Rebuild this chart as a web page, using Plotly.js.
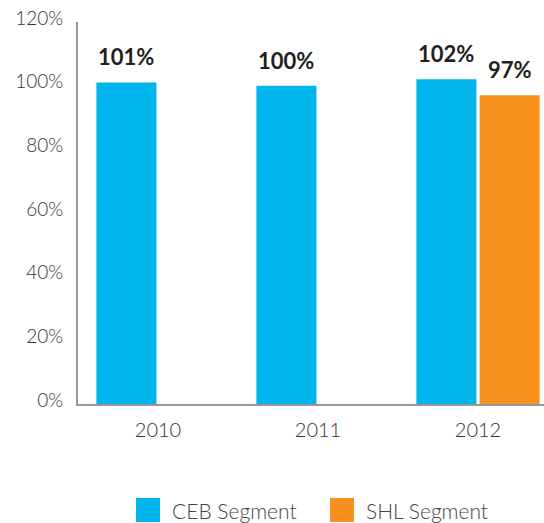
<!DOCTYPE html>
<html><head><meta charset="utf-8">
<script src="https://cdn.plot.ly/plotly-3.0.1.min.js"></script>
<style>html,body{margin:0;padding:0;background:#fff}</style>
</head><body><div id="chart" style="width:544px;height:523px"></div>
<script>
var years = ['2010', '2011', '2012'];
var seriesNames = ['CEB Segment', 'SHL Segment'];
var cebValues = [101, 100, 102];
var shlValues = [null, null, 97];
var cebLabels = ['101%', '100%', '102%'];
var shlLabels = ['', '', '97%'];
var yTicks = [0, 20, 40, 60, 80, 100, 120];
var yTickText = yTicks.map(function (v) { return v + '%'; });
var colors = ['#00b5ec', '#f7901e'];

var FONT = 'Lato, "Open Sans", sans-serif';
var labelFont = {family: FONT, size: 22, color: '#231f20', weight: 700};
var traces = [
  {type: 'bar', name: seriesNames[0], x: years, y: cebValues,
   marker: {color: colors[0], line: {width: 0}}, hoverinfo: 'none'},
  {type: 'bar', name: seriesNames[1], x: years, y: shlValues,
   marker: {color: colors[1], line: {width: 0}}, hoverinfo: 'none'}
];

var W = 544, L = 78, T = 22, B = 404;
function px(x) { return (x - L) / (W - L); }
function py(y) { return (B - y) / (B - T); }
var shapes = [], annotations = [];
var legX = [136, 330];
for (var i = 0; i < seriesNames.length; i++) {
  shapes.push({type: 'rect', xref: 'paper', yref: 'paper', x0: px(legX[i]), x1: px(legX[i] + 24),
    y0: py(498), y1: py(522), fillcolor: colors[i], line: {width: 0}});
  annotations.push({xref: 'paper', yref: 'paper', x: px(legX[i] + 34), y: py(511), xanchor: 'left',
    yanchor: 'middle', text: seriesNames[i], showarrow: false,
    font: {family: FONT, size: 21, color: '#444446', weight: 300}});
}
// value labels above bars (CEB left slot, SHL right slot of each group)
var slotShift = 31.6;
var allVals = [cebValues, shlValues], allLabels = [cebLabels, shlLabels];
for (var s = 0; s < 2; s++) {
  for (var k = 0; k < years.length; k++) {
    if (allVals[s][k] === null) continue;
    annotations.push({x: k, y: allVals[s][k], xref: 'x', yref: 'y', text: allLabels[s][k],
      showarrow: false, xanchor: 'center', yanchor: 'bottom', xshift: (s === 0 ? -slotShift : slotShift),
      yshift: 10, font: labelFont});
  }
}

var layout = {
  width: 544, height: 523,
  margin: {l: L, r: 0, t: T, b: 523 - B, pad: 0},
  paper_bgcolor: '#fff', plot_bgcolor: '#fff',
  showlegend: false,
  barmode: 'group', bargap: 0.21, bargroupgap: 0.05,
  font: {family: FONT, color: '#333335'},
  xaxis: {type: 'category', range: [-0.5, 2.4125], showline: true, linecolor: '#97979b', linewidth: 2,
    ticks: '', showgrid: false, zeroline: false, ticklabelstandoff: 7,
    tickfont: {size: 20, color: '#333335', weight: 300}, fixedrange: true},
  yaxis: {range: [0, 120], tickmode: 'array', tickvals: yTicks, ticktext: yTickText, showline: true,
    linecolor: '#97979b', linewidth: 2,
    ticks: '', showgrid: false, zeroline: false, ticklabelshift: -4, ticklabelstandoff: 9,
    tickfont: {size: 19, color: '#333335', weight: 300}, fixedrange: true},
  shapes: shapes,
  annotations: annotations
};
Plotly.newPlot('chart', traces, layout, {displayModeBar: false, staticPlot: true});
</script></body></html>
